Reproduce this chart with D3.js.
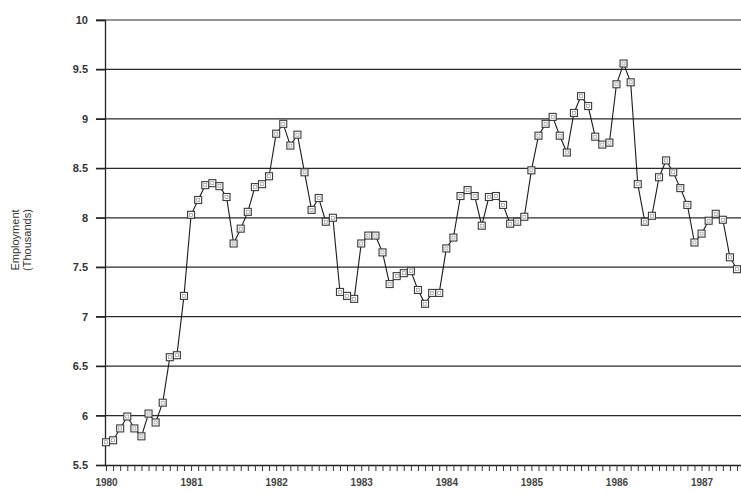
<!DOCTYPE html>
<html>
<head>
<meta charset="utf-8">
<script src="https://cdn.jsdelivr.net/npm/d3@7"></script>
<style>
	body { margin: 0; background: #fff; }
	svg { display: block; }
	text { font-family: "Liberation Sans", Arial, sans-serif; }
</style>
</head>
<body>
<div id="chart-area"></div>
<script>
// monthly employment (thousands), Jan 1980 onwards
const startYear = 1980
const employment = [
	5.73, 5.75, 5.87, 5.99, 5.87, 5.79, 6.02, 5.93, 6.13, 6.59, 6.61, 7.21,
	8.03, 8.18, 8.33, 8.35, 8.32, 8.21, 7.74, 7.89, 8.06, 8.31, 8.34, 8.42,
	8.85, 8.95, 8.73, 8.84, 8.46, 8.08, 8.20, 7.96, 8.00, 7.25, 7.21, 7.18,
	7.74, 7.82, 7.82, 7.65, 7.33, 7.41, 7.44, 7.46, 7.27, 7.13, 7.24, 7.24,
	7.69, 7.80, 8.22, 8.28, 8.22, 7.92, 8.21, 8.22, 8.13, 7.94, 7.96, 8.01,
	8.48, 8.83, 8.95, 9.02, 8.83, 8.66, 9.06, 9.23, 9.13, 8.82, 8.74, 8.76,
	9.35, 9.56, 9.37, 8.34, 7.96, 8.02, 8.41, 8.58, 8.46, 8.30, 8.13, 7.75,
	7.84, 7.97, 8.04, 7.98, 7.60, 7.48
]
const yearLabels = ['1980', '1981', '1982', '1983', '1984', '1985', '1986', '1987']
const yTicks = [5.5, 6, 6.5, 7, 7.5, 8, 8.5, 9, 9.5, 10]

const CANVAS_WIDTH = 741
const CANVAS_HEIGHT = 492

const $svg = d3.select('#chart-area')
	.append('svg')
	.attr('width', CANVAS_WIDTH)
	.attr('height', CANVAS_HEIGHT)

const plotLeft = 105
const plotTop = 20
const plotBottom = 465

/* Scales */
// x in months since Jan 1980; chart runs off the right edge
const xScale = d3.scaleLinear()
	.domain([0, 96])
	.range([plotLeft + 1, plotLeft + 1 + 96 * 7.09])

const yScale = d3.scaleLinear()
	.domain([5.5, 10])
	.range([plotBottom, plotTop])

/* Grid */
$svg.append('g')
	.selectAll('line')
	.data(yTicks.slice(1))
	.enter().append('line')
	.attr('x1', plotLeft - 9)
	.attr('x2', CANVAS_WIDTH)
	.attr('y1', d => yScale(d))
	.attr('y2', d => yScale(d))
	.attr('stroke', '#2a2a2a')
	.attr('stroke-width', 1.2)

/* Y axis */
const yAxisCall = d3.axisLeft(yScale)
	.tickValues(yTicks)
	.tickSize(9)
	.tickPadding(8)
	.tickFormat(d => d)

const $yAxisGroup = $svg.append('g')
	.attr('transform', `translate(${plotLeft}, 0)`)
	.call(yAxisCall)

$yAxisGroup.select('.domain').attr('stroke', '#222').attr('stroke-width', 1.3)
$yAxisGroup.selectAll('.tick line').attr('stroke', '#222').attr('stroke-width', 1.2)
$yAxisGroup.selectAll('.tick text')
	.attr('font-size', 11)
	.attr('font-weight', 'bold')
	.attr('fill', '#333')

/* X axis */
const months = d3.range(0, 96)
const xAxisCall = d3.axisBottom(xScale)
	.tickValues(months)
	.tickSize(6)
	.tickFormat(d => d % 12 === 0 ? yearLabels[d / 12] : '')

const $xAxisGroup = $svg.append('g')
	.attr('transform', `translate(0, ${plotBottom})`)
	.call(xAxisCall)

$xAxisGroup.select('.domain').attr('d', `M${plotLeft},0.5H${CANVAS_WIDTH}`)
	.attr('stroke', '#222').attr('stroke-width', 1.3)
$xAxisGroup.selectAll('.tick line').attr('stroke', '#333').attr('stroke-width', 1)
$xAxisGroup.selectAll('.tick text')
	.attr('dy', '1.2em')
	.attr('font-size', 10)
	.attr('font-weight', 'bold')
	.attr('fill', '#444')

/* Axis title */
const $title = $svg.append('text')
	.attr('transform', `translate(19, 240) rotate(-90)`)
	.attr('text-anchor', 'middle')
	.attr('font-size', 11)
	.attr('fill', '#333')

$title.append('tspan').attr('x', 0).attr('dy', 0).text('Employment')
$title.append('tspan').attr('x', 0).attr('dy', 12).text('(Thousands)')

/* Line + markers */
const line = d3.line()
	.x((d, i) => xScale(i))
	.y(d => yScale(d))

$svg.append('path')
	.datum(employment)
	.attr('d', line)
	.attr('fill', 'none')
	.attr('stroke', '#1a1a1a')
	.attr('stroke-width', 1.1)

const $markers = $svg.append('g')
	.selectAll('g')
	.data(employment)
	.enter().append('g')
	.attr('transform', (d, i) => `translate(${xScale(i)}, ${yScale(d)})`)

$markers.append('rect')
	.attr('x', -3.5).attr('y', -3.5)
	.attr('width', 7).attr('height', 7)
	.attr('fill', '#fff')
	.attr('stroke', '#3a3a3a')
	.attr('stroke-width', 1.1)

$markers.append('rect')
	.attr('x', -1.5).attr('y', -1.5)
	.attr('width', 3).attr('height', 3)
	.attr('fill', 'none')
	.attr('stroke', '#999')
	.attr('stroke-width', 0.7)
</script>
</body>
</html>
